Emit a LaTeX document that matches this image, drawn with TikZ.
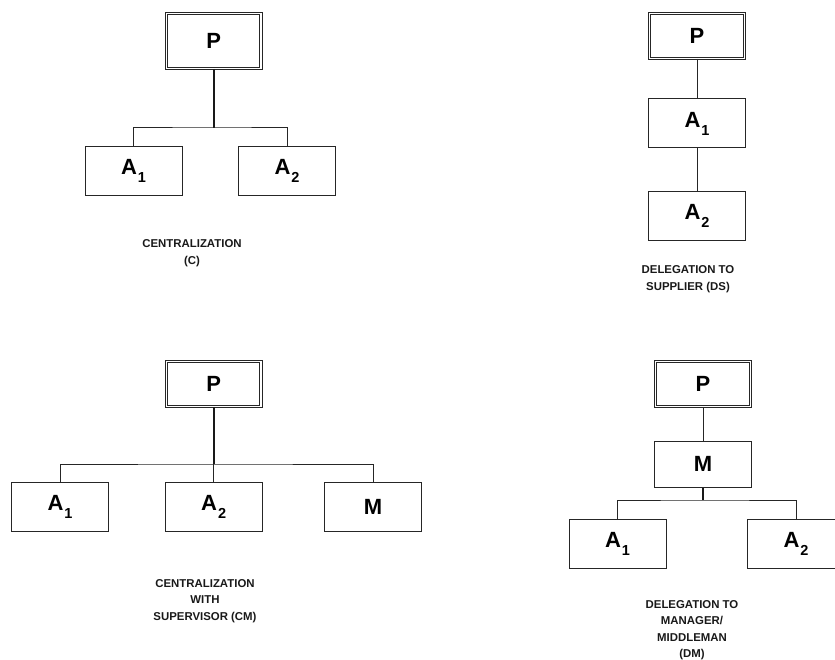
\documentclass[tikz,border=0pt]{standalone}
\usepackage{fontspec}
\setmainfont{Liberation Sans}
\usepackage{tikz}
\usepackage{xcolor}

\newcommand{\agent}[2]{#1\kern1pt\raisebox{-8pt}{\fontsize{14.5}{14.5}\selectfont #2}}

\begin{document}
\begin{tikzpicture}[x=1pt,y=-1pt,
  box/.style={draw=black!85, line width=1pt, minimum width=97pt, minimum height=49pt,
    inner sep=0pt, font=\fontsize{22}{22}\bfseries\selectfont},
  pbox/.style={box, double, double distance=1.2pt, line width=1pt, minimum width=94.6pt},
  lbl/.style={align=center, text=black!90, font=\fontsize{11.4}{16.5}\bfseries\selectfont},
  bar/.style={draw=black!85, line width=1pt},
  stem/.style={draw=black!90, line width=2pt}]
\clip (0,0) rectangle (835,660);

% centralization (C)
\node[pbox, minimum height=54.6pt] (cP) at (213.7,41) {P};
\node[box] (cA1) at (133.5,171) {\agent{A}{1}};
\node[box] (cA2) at (287,171) {\agent{A}{2}};
\coordinate (cJ) at (213.7,128);
\draw[stem] (cP.south) -- (cJ);
\draw[bar] (cA1.north) |- (cJ) -| (cA2.north);
\node[lbl] (cL) at (192,253) {CENTRALIZATION\\(C)};

% delegation to supplier (DS)
\node[pbox, minimum height=44.6pt] (dP) at (697,36) {P};
\node[box] (dA1) at (697,123.5) {\agent{A}{1}};
\node[box] (dA2) at (697,216) {\agent{A}{2}};
\draw[bar] (dP.south) -- (dA1.north);
\draw[bar] (dA1.south) -- (dA2.north);
\node[lbl] (dL) at (688,279) {DELEGATION TO\\SUPPLIER (DS)};

% centralization with supervisor (CM)
\node[pbox, minimum height=44.6pt] (mP) at (213.7,384) {P};
\node[box] (mA1) at (60,507) {\agent{A}{1}};
\node[box] (mA2) at (213.7,507) {\agent{A}{2}};
\node[box] (mM) at (373,507) {M};
\coordinate (mJ) at (213.7,464);
\draw[stem] (mP.south) -- (mJ);
\draw[bar] (mA1.north) |- (mJ) -| (mM.north);
\draw[bar] (mJ) -- (mA2.north);
\node[lbl] (mL) at (205,601) {CENTRALIZATION\\WITH\\SUPERVISOR (CM)};

% delegation to manager/middleman (DM)
\node[pbox, minimum height=44.6pt] (xP) at (703,384) {P};
\node[box, minimum height=46pt] (xM) at (703,464) {M};
\node[box] (xA1) at (617.5,543.5) {\agent{A}{1}};
\node[box] (xA2) at (796,543.5) {\agent{A}{2}};
\coordinate (xJ) at (703,500);
\draw[bar] (xP.south) -- (xM.north);
\draw[stem] (xM.south) -- (xJ);
\draw[bar] (xA1.north) |- (xJ) -| (xA2.north);
\node[lbl] (xL) at (692,630) {DELEGATION TO\\MANAGER/\\MIDDLEMAN\\(DM)};
\end{tikzpicture}
\end{document}
